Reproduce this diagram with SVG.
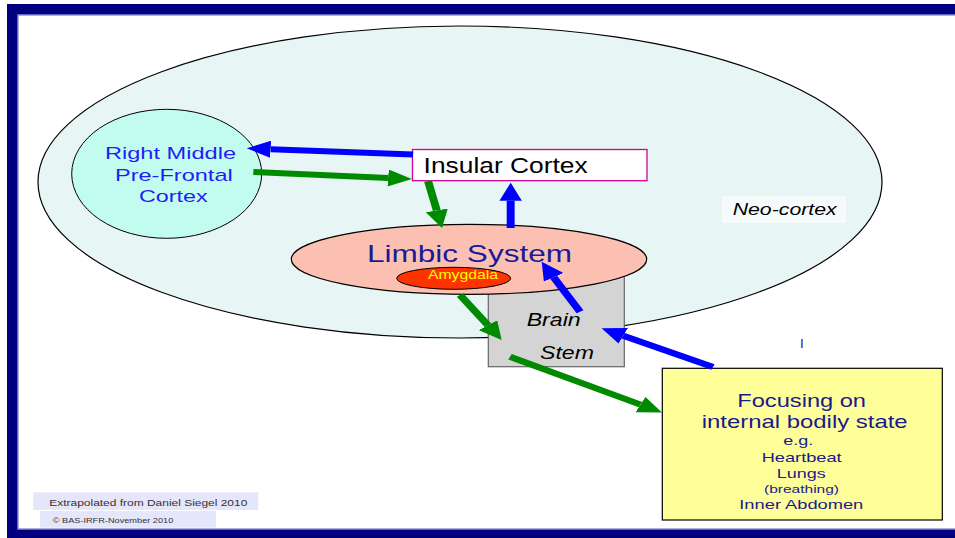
<svg xmlns="http://www.w3.org/2000/svg" width="955" height="538" viewBox="0 0 955 538">
<defs>
<style>
text{font-family:"Liberation Sans",Arial,sans-serif}
.ln{fill:none;stroke-width:6}
.bl{stroke:#0000ff;marker-end:url(#ab)}
.gr{stroke:#008a00;marker-end:url(#ag)}
.nv{fill:#1a1a8c}
.it{font-style:italic}
</style>
<marker id="ab" markerUnits="userSpaceOnUse" markerWidth="18" markerHeight="17" viewBox="0 0 18 17" refX="0" refY="8.5" orient="auto"><path d="M0,0 L18,8.5 L0,17 Z" fill="#0000ff"/></marker>
<marker id="ag" markerUnits="userSpaceOnUse" markerWidth="18" markerHeight="17" viewBox="0 0 18 17" refX="0" refY="8.5" orient="auto"><path d="M0,0 L18,8.5 L0,17 Z" fill="#008a00"/></marker>
</defs>
<rect width="955" height="538" fill="#ffffff"/>
<g id="frame">
<rect x="7" y="4" width="948" height="10" fill="#000080"/>
<rect x="17" y="14" width="938" height="1.5" fill="#6464bc"/>
<rect x="7" y="4" width="10" height="534" fill="#000080"/>
<rect x="17" y="14" width="1.5" height="515" fill="#6464bc"/>
<rect x="17" y="528.5" width="938" height="1.5" fill="#6464bc"/>
<rect x="7" y="530" width="948" height="8" fill="#000080"/>
</g>
<g id="neocortex">
<ellipse cx="460" cy="182" rx="422" ry="156" fill="#e8f5f5" stroke="#000" stroke-width="1.2"/>
<rect x="722" y="196" width="124" height="27" fill="#f5fafa"/>
<text x="732.7" y="215" font-size="16" class="it" textLength="104" lengthAdjust="spacingAndGlyphs">Neo-cortex</text>
</g>
<g id="pfc">
<ellipse cx="166.7" cy="173.8" rx="95" ry="64.5" fill="#c2fcee" stroke="#000" stroke-width="1"/>
<text x="105" y="159" font-size="17" fill="#1f1ff5" textLength="131" lengthAdjust="spacingAndGlyphs">Right Middle</text>
<text x="115" y="181" font-size="17" fill="#1f1ff5" textLength="117.7" lengthAdjust="spacingAndGlyphs">Pre-Frontal</text>
<text x="139" y="201.7" font-size="17" fill="#1f1ff5" textLength="68.7" lengthAdjust="spacingAndGlyphs">Cortex</text>
</g>
<g id="insular">
<rect x="412.5" y="149.5" width="234.5" height="31.2" fill="#ffffff" stroke="#d4009a" stroke-width="1.3"/>
<text x="423.6" y="172.7" font-size="22" fill="#000" textLength="164" lengthAdjust="spacingAndGlyphs">Insular Cortex</text>
</g>
<g id="brainstem">
<rect x="488.3" y="272" width="136" height="94.7" fill="#d4d4d4" stroke="#666" stroke-width="1.2"/>
<text x="526.7" y="326" font-size="17.5" class="it" textLength="54" lengthAdjust="spacingAndGlyphs">Brain</text>
<text x="540" y="359.3" font-size="17.5" class="it" textLength="54" lengthAdjust="spacingAndGlyphs">Stem</text>
</g>
<g id="limbic">
<ellipse cx="469" cy="259.3" rx="177.7" ry="35" fill="#fcc0b2" stroke="#000" stroke-width="1.2"/>
<text x="367" y="262.3" font-size="24" fill="#1a1a99" textLength="205" lengthAdjust="spacingAndGlyphs">Limbic System</text>
</g>
<g id="amygdala">
<ellipse cx="453.7" cy="278.3" rx="57" ry="11" fill="#ff3300" stroke="#000" stroke-width="1"/>
<text x="428" y="279.3" font-size="12" fill="#ffff00" textLength="70" lengthAdjust="spacingAndGlyphs">Amygdala</text>
</g>
<g id="focus">
<rect x="662.3" y="368.3" width="280" height="151.7" fill="#ffff99" stroke="#000" stroke-width="1.2"/>
<text x="737.3" y="406.7" font-size="18.6" class="nv" textLength="128.7" lengthAdjust="spacingAndGlyphs">Focusing on</text>
<text x="701.7" y="428.3" font-size="18.6" class="nv" textLength="206" lengthAdjust="spacingAndGlyphs">internal bodily state</text>
<text x="783.3" y="445" font-size="13" class="nv" textLength="30" lengthAdjust="spacingAndGlyphs">e.g.</text>
<text x="761.7" y="462.3" font-size="12.6" class="nv" textLength="80" lengthAdjust="spacingAndGlyphs">Heartbeat</text>
<text x="776.7" y="478.3" font-size="12.6" class="nv" textLength="49" lengthAdjust="spacingAndGlyphs">Lungs</text>
<text x="764" y="493.3" font-size="11" class="nv" textLength="75" lengthAdjust="spacingAndGlyphs">(breathing)</text>
<text x="739.3" y="509.3" font-size="12.6" class="nv" textLength="124" lengthAdjust="spacingAndGlyphs">Inner Abdomen</text>
</g>
<g id="mark">
<text x="800" y="347.7" font-size="13.5" class="nv">I</text>
</g>
<g id="credits">
<rect x="33.3" y="492.3" width="225" height="17.7" fill="#e6e6fa"/>
<text x="49.3" y="506" font-size="9.5" fill="#333" textLength="198" lengthAdjust="spacingAndGlyphs">Extrapolated from Daniel Siegel 2010</text>
<rect x="40" y="511" width="176" height="16.7" fill="#e6e6fa"/>
<text x="52.7" y="523.3" font-size="7.3" fill="#333" textLength="120.6" lengthAdjust="spacingAndGlyphs">© BAS-IRFR-November 2010</text>
</g>
<g id="connectors" transform="scale(1.32639 1)">
<line class="ln bl" x1="311.4" y1="154.5" x2="204.0" y2="149.2"/>
<line class="ln gr" x1="191.0" y1="172" x2="292.6" y2="178.0"/>
<line class="ln gr" x1="322.7" y1="181" x2="329.3" y2="210.4"/>
<line class="ln bl" x1="385.0" y1="228" x2="385.0" y2="200.7"/>
<line class="ln bl" x1="437.3" y1="311.7" x2="417.4" y2="277.3"/>
<line class="ln bl" x1="537.5" y1="367" x2="469.9" y2="335.8"/>
<line class="ln gr" x1="346.8" y1="295" x2="367.9" y2="325.2"/>
<line class="ln gr" x1="384.5" y1="356.7" x2="482.9" y2="404.6"/>
</g>
</svg>
